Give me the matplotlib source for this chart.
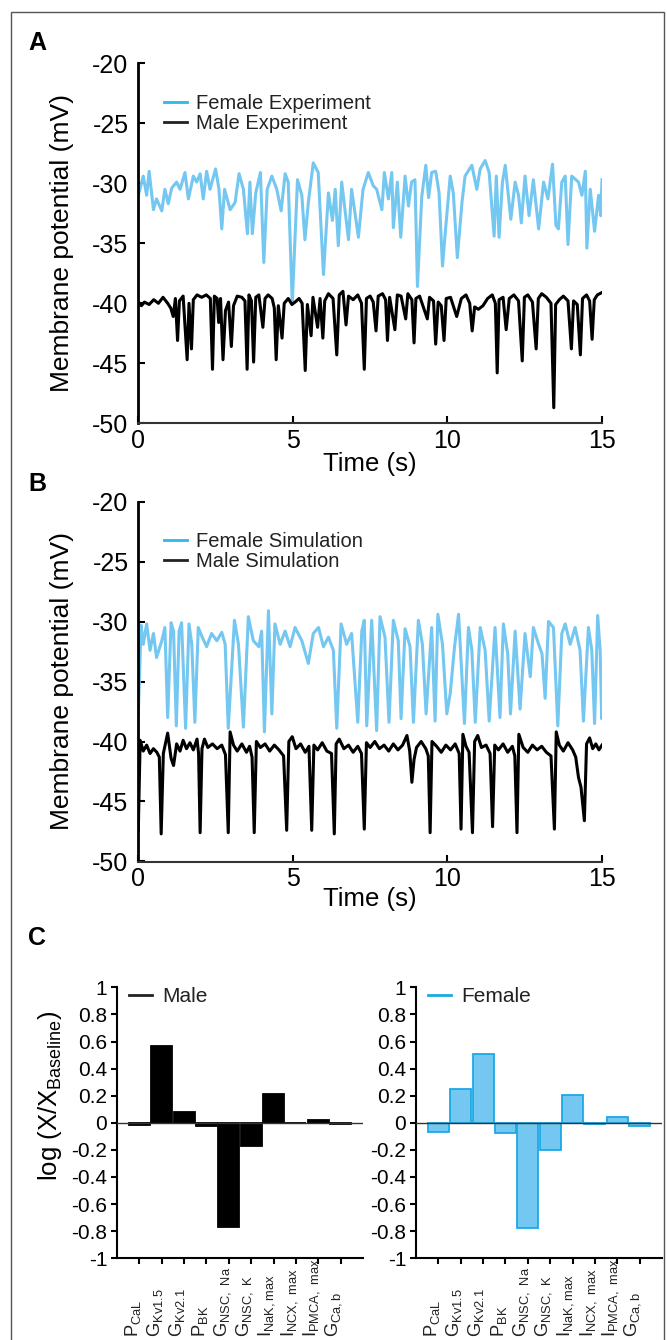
import numpy as np
import matplotlib
matplotlib.use("Agg")
import matplotlib.pyplot as plt
from matplotlib.patches import Rectangle
from matplotlib.transforms import blended_transform_factory

plt.rcParams['font.family'] = ['Liberation Sans', 'DejaVu Sans']
plt.rcParams['mathtext.default'] = 'regular'
plt.rcParams['axes.unicode_minus'] = False

# ---- panel A: experiment traces (time s, membrane potential mV) ----
female_exp = [(0.0, -31.0), (0.16, -29.4), (0.27, -31.0), (0.35, -29.0), (0.49, -32.2), (0.59, -31.3),
              (0.76, -32.3), (0.86, -30.5), (0.97, -31.7), (1.08, -30.4), (1.24, -29.9), (1.35, -30.5),
              (1.51, -29.1), (1.62, -31.3), (1.78, -29.4), (1.89, -29.9), (2.0, -29.2), (2.1, -31.3),
              (2.21, -29.0), (2.32, -30.5), (2.5, -28.8), (2.61, -30.5), (2.7, -33.8), (2.79, -30.5),
              (2.97, -32.2), (3.13, -31.6), (3.26, -29.2), (3.4, -30.5), (3.53, -34.2), (3.61, -29.9),
              (3.69, -34.2), (3.8, -30.8), (3.95, -29.1), (4.06, -36.6), (4.17, -30.5), (4.32, -29.4),
              (4.48, -30.5), (4.62, -32.3), (4.75, -29.2), (4.85, -29.9), (4.98, -40.0), (5.15, -29.7),
              (5.29, -31.0), (5.39, -34.7), (5.5, -31.6), (5.66, -28.3), (5.82, -29.1), (5.99, -37.6),
              (6.15, -30.8), (6.28, -33.1), (6.37, -30.5), (6.47, -35.2), (6.58, -29.9), (6.8, -34.7),
              (6.9, -30.5), (7.12, -34.5), (7.27, -30.5), (7.44, -29.1), (7.6, -30.2), (7.71, -30.5),
              (7.88, -32.2), (7.96, -29.1), (8.09, -31.3), (8.2, -29.1), (8.25, -33.7), (8.38, -29.9),
              (8.49, -34.5), (8.63, -29.4), (8.74, -31.9), (8.84, -29.9), (8.95, -29.7), (9.03, -38.6),
              (9.17, -31.1), (9.3, -28.5), (9.39, -31.2), (9.49, -29.1), (9.62, -29.0), (9.73, -30.8),
              (9.84, -36.9), (9.93, -34.1), (10.09, -29.4), (10.19, -30.8), (10.32, -36.2), (10.47, -31.6),
              (10.57, -29.4), (10.79, -28.5), (10.95, -30.5), (11.06, -28.8), (11.22, -28.1), (11.35, -29.1),
              (11.51, -34.4), (11.58, -29.4), (11.67, -34.5), (11.78, -29.9), (11.87, -28.5), (12.05, -33.0),
              (12.19, -29.9), (12.3, -31.0), (12.39, -33.3), (12.51, -29.4), (12.64, -32.7), (12.78, -29.7),
              (12.95, -33.8), (13.11, -29.9), (13.25, -31.3), (13.4, -28.4), (13.51, -33.5), (13.59, -33.8),
              (13.7, -29.9), (13.81, -29.4), (13.9, -35.1), (14.02, -29.4), (14.24, -29.9), (14.35, -31.0),
              (14.46, -29.0), (14.51, -35.4), (14.62, -30.5), (14.76, -34.0), (14.89, -31.0), (14.96, -32.7),
              (15.0, -29.7)]

male_exp = [(0.0, -39.9), (0.1, -40.2), (0.2, -39.9), (0.35, -40.1), (0.5, -39.7), (0.65, -40.0),
            (0.8, -39.5), (0.95, -40.0), (1.05, -40.4), (1.13, -41.1), (1.2, -39.6), (1.27, -43.1),
            (1.33, -39.8), (1.45, -39.4), (1.58, -44.7), (1.64, -40.0), (1.72, -43.8), (1.78, -39.7),
            (1.9, -39.3), (2.05, -39.5), (2.2, -39.3), (2.33, -39.6), (2.4, -45.5), (2.46, -39.4),
            (2.55, -39.6), (2.6, -41.6), (2.66, -39.6), (2.74, -44.7), (2.82, -40.6), (2.92, -39.9),
            (3.01, -43.6), (3.08, -40.2), (3.2, -39.4), (3.35, -39.5), (3.45, -39.8), (3.52, -45.5),
            (3.58, -39.3), (3.66, -39.8), (3.73, -44.9), (3.8, -39.5), (3.9, -39.3), (4.03, -42.0),
            (4.1, -39.6), (4.2, -39.3), (4.33, -39.6), (4.4, -40.4), (4.46, -44.7), (4.53, -40.2),
            (4.65, -42.9), (4.72, -40.0), (4.85, -39.6), (4.97, -40.1), (5.07, -39.9), (5.2, -39.6),
            (5.3, -40.0), (5.4, -45.6), (5.47, -40.1), (5.59, -42.7), (5.65, -39.5), (5.8, -42.0),
            (5.88, -39.6), (5.97, -42.9), (6.03, -39.8), (6.15, -39.2), (6.3, -39.6), (6.42, -44.3),
            (6.5, -39.3), (6.62, -39.0), (6.72, -41.8), (6.8, -39.4), (6.95, -39.7), (7.1, -39.3),
            (7.22, -40.0), (7.31, -45.5), (7.38, -39.6), (7.5, -39.4), (7.6, -39.9), (7.69, -42.3),
            (7.76, -39.4), (7.9, -39.2), (8.0, -39.7), (8.06, -43.1), (8.13, -39.5), (8.3, -42.2),
            (8.38, -39.3), (8.5, -39.4), (8.65, -41.3), (8.72, -39.2), (8.85, -39.7), (8.92, -43.3),
            (8.98, -39.6), (9.1, -39.4), (9.35, -41.3), (9.42, -39.5), (9.55, -39.8), (9.62, -43.4),
            (9.7, -39.9), (9.8, -40.2), (9.89, -43.1), (9.96, -39.6), (10.1, -39.5), (10.3, -41.1),
            (10.45, -39.6), (10.6, -39.3), (10.72, -40.0), (10.8, -42.3), (10.88, -40.3), (11.0, -40.5),
            (11.15, -40.2), (11.3, -39.6), (11.45, -39.3), (11.55, -40.0), (11.61, -45.8), (11.67, -39.7),
            (11.8, -39.5), (11.9, -42.2), (12.0, -39.6), (12.15, -39.3), (12.3, -39.8), (12.42, -44.8),
            (12.49, -39.5), (12.6, -39.3), (12.75, -39.9), (12.87, -43.8), (12.94, -39.6), (13.05, -39.2),
            (13.2, -39.5), (13.35, -40.0), (13.44, -48.7), (13.5, -40.1), (13.62, -39.7), (13.75, -39.4),
            (13.9, -39.8), (14.01, -43.8), (14.08, -39.8), (14.2, -40.1), (14.3, -44.3), (14.37, -39.6),
            (14.5, -39.3), (14.6, -39.8), (14.68, -43.0), (14.75, -39.7), (14.85, -39.3), (15.0, -39.1)]

# ---- panel B: simulation traces ----
female_sim = [(0.0, -37.7), (0.09, -30.3), (0.16, -31.9), (0.27, -30.2), (0.38, -32.4), (0.49, -31.0),
              (0.59, -33.0), (0.76, -31.6), (0.86, -30.5), (0.95, -38.0), (1.06, -30.1), (1.14, -30.8),
              (1.23, -38.7), (1.32, -30.8), (1.4, -30.1), (1.53, -38.9), (1.64, -30.2), (1.73, -31.9),
              (1.83, -38.4), (1.94, -30.5), (2.05, -31.2), (2.21, -32.1), (2.37, -31.0), (2.54, -31.6),
              (2.7, -30.9), (2.81, -31.9), (2.91, -38.9), (3.11, -29.9), (3.24, -31.9), (3.4, -38.8),
              (3.56, -29.6), (3.72, -31.6), (3.9, -32.1), (3.99, -30.8), (4.08, -39.2), (4.21, -29.1),
              (4.32, -37.7), (4.42, -30.2), (4.59, -31.9), (4.75, -30.8), (4.91, -32.1), (5.07, -30.5),
              (5.29, -31.6), (5.5, -33.5), (5.66, -31.0), (5.83, -30.5), (5.99, -32.1), (6.15, -31.3),
              (6.31, -32.4), (6.42, -38.9), (6.56, -30.2), (6.74, -31.9), (6.9, -31.0), (7.1, -38.4),
              (7.23, -30.8), (7.31, -29.9), (7.39, -38.7), (7.55, -29.9), (7.71, -39.1), (7.82, -29.6),
              (7.98, -31.3), (8.11, -38.4), (8.25, -29.9), (8.41, -31.6), (8.5, -38.1), (8.63, -30.6),
              (8.79, -32.1), (8.9, -38.4), (9.06, -29.9), (9.19, -31.9), (9.31, -37.7), (9.49, -30.5),
              (9.6, -38.3), (9.69, -29.4), (9.84, -31.9), (9.98, -37.7), (10.09, -36.0), (10.23, -32.1),
              (10.36, -29.4), (10.55, -38.5), (10.68, -30.5), (10.79, -32.4), (10.9, -38.4), (11.06, -30.5),
              (11.22, -32.4), (11.35, -38.3), (11.54, -30.5), (11.7, -38.0), (11.81, -30.2), (11.95, -32.7),
              (12.04, -37.7), (12.19, -30.8), (12.35, -37.3), (12.51, -31.0), (12.68, -34.6), (12.78, -30.5),
              (12.95, -31.9), (13.06, -32.7), (13.16, -36.4), (13.27, -30.0), (13.43, -30.5), (13.57, -38.7),
              (13.7, -31.0), (13.81, -30.2), (13.97, -31.9), (14.13, -30.5), (14.29, -32.4), (14.4, -38.3),
              (14.56, -30.5), (14.67, -32.4), (14.76, -38.5), (14.86, -29.5), (14.94, -32.4), (14.99, -38.1),
              (15.0, -36.3)]

male_sim = [(0.0, -47.4), (0.06, -39.9), (0.16, -40.8), (0.27, -40.3), (0.38, -41.0), (0.49, -40.6),
            (0.6, -40.9), (0.68, -41.3), (0.74, -47.7), (0.81, -41.0), (0.86, -40.4), (0.95, -39.3),
            (1.06, -41.4), (1.14, -42.0), (1.24, -40.2), (1.35, -40.8), (1.45, -39.9), (1.56, -40.6),
            (1.67, -40.1), (1.78, -40.7), (1.9, -39.8), (1.95, -41.0), (2.0, -47.6), (2.06, -40.6),
            (2.14, -39.8), (2.25, -40.5), (2.4, -40.2), (2.55, -40.6), (2.7, -40.3), (2.82, -41.1),
            (2.91, -47.6), (2.97, -39.2), (3.08, -40.3), (3.2, -40.8), (3.35, -40.2), (3.5, -40.9),
            (3.6, -40.4), (3.68, -41.3), (3.75, -47.6), (3.82, -40.0), (3.95, -40.5), (4.1, -40.2),
            (4.25, -40.8), (4.4, -40.3), (4.55, -40.7), (4.7, -41.2), (4.8, -47.4), (4.87, -40.0),
            (4.98, -39.6), (5.1, -40.6), (5.25, -40.2), (5.4, -40.9), (5.52, -40.4), (5.61, -47.4),
            (5.68, -40.3), (5.8, -40.7), (5.95, -40.1), (6.1, -40.8), (6.25, -41.0), (6.34, -47.7),
            (6.4, -40.2), (6.5, -39.8), (6.65, -40.6), (6.8, -40.3), (6.95, -40.9), (7.1, -40.4),
            (7.22, -41.0), (7.31, -47.3), (7.38, -40.1), (7.5, -40.5), (7.65, -40.0), (7.8, -40.6),
            (7.95, -40.3), (8.1, -40.8), (8.25, -40.2), (8.4, -40.7), (8.55, -40.3), (8.69, -39.5),
            (8.78, -40.8), (8.85, -43.4), (8.92, -41.5), (9.0, -40.5), (9.15, -40.0), (9.3, -40.6),
            (9.38, -41.2), (9.44, -47.6), (9.5, -40.0), (9.65, -40.4), (9.8, -40.9), (9.95, -40.3),
            (10.1, -40.7), (10.25, -40.2), (10.38, -41.0), (10.44, -47.3), (10.5, -39.4), (10.6, -40.4),
            (10.7, -40.9), (10.81, -47.6), (10.88, -40.0), (10.98, -39.5), (11.1, -40.5), (11.25, -40.3),
            (11.38, -41.0), (11.46, -47.1), (11.53, -40.3), (11.65, -40.7), (11.8, -40.2), (11.95, -40.9),
            (12.1, -40.4), (12.18, -41.2), (12.25, -47.6), (12.31, -39.4), (12.45, -40.5), (12.6, -40.9),
            (12.75, -40.3), (12.9, -40.7), (13.05, -40.4), (13.2, -40.9), (13.35, -41.2), (13.46, -47.3),
            (13.52, -39.2), (13.62, -40.3), (13.75, -40.8), (13.9, -40.1), (14.05, -40.7), (14.15, -41.3),
            (14.24, -43.0), (14.32, -43.8), (14.43, -46.6), (14.5, -40.2), (14.6, -39.7), (14.7, -40.6),
            (14.8, -40.2), (14.9, -40.7), (15.0, -40.3)]

# ---- panel C: fitted parameter changes ----
params = [r'$P_{CaL}$', r'$G_{Kv1.5}$', r'$G_{Kv2.1}$', r'$P_{BK}$', r'$G_{NSC,\ Na}$',
          r'$G_{NSC,\ K}$', r'$I_{NaK,max}$', r'$I_{NCX,\ max}$', r'$I_{PMCA,\ max}$', r'$G_{Ca,b}$']
male_log = [-0.015, 0.57, 0.08, -0.022, -0.77, -0.17, 0.21, -0.005, 0.022, -0.01]
female_log = [-0.065, 0.25, 0.51, -0.075, -0.775, -0.2, 0.207, -0.012, 0.04, -0.022]
bar_yticks = [-1, -0.8, -0.6, -0.4, -0.2, 0, 0.2, 0.4, 0.6, 0.8, 1]
bar_yticklabels = ['-1', '-0.8', '-0.6', '-0.4', '-0.2', '0', '0.2', '0.4', '0.6', '0.8', '1']

FEM = '#74c7f0'
FEM_KEY = '#2fb6ec'
W, H = 667, 1340

fig = plt.figure(figsize=(W / 100, H / 100), dpi=100)
fig.patches.append(Rectangle((11 / W, -0.02), (664 - 11) / W, 1.02 - 12 / H,
                             transform=fig.transFigure, fill=False, ec='#555555', lw=1.0))


def px_axes(left, top, right, bottom):
    return fig.add_axes([left / W, 1 - bottom / H, (right - left) / W, (bottom - top) / H])


def trace_panel(ax, fem, mal, labels, xlab_y):
    ft, fv = zip(*fem)
    mt, mv = zip(*mal)
    ax.plot(ft, fv, color=FEM, lw=2.2, label=labels[0], solid_joinstyle='round')
    ax.plot(mt, mv, color='black', lw=2.2, label=labels[1], solid_joinstyle='round')
    ax.set_xlim(0, 15)
    ax.set_ylim(-50, -20)
    ax.set_xticks([0, 5, 10, 15])
    ax.set_yticks([-50, -45, -40, -35, -30, -25, -20])
    for s in ['top', 'right']:
        ax.spines[s].set_visible(False)
    ax.spines['left'].set_linewidth(2.0)
    ax.spines['bottom'].set_linewidth(1.5)
    ax.spines['bottom'].set_color('#333333')
    ax.tick_params(axis='both', direction='in', length=5, width=1.5, labelsize=18)
    ax.tick_params(axis='y', pad=7)
    ax.tick_params(axis='x', pad=4)
    ax.set_ylabel('Membrane potential (mV)', fontsize=19)
    ax.yaxis.set_label_coords(-0.139, 0.5)
    ax.set_xlabel('Time (s)', fontsize=18.5)
    ax.xaxis.set_label_coords(0.5, xlab_y)
    leg = ax.legend(loc='upper left', bbox_to_anchor=(0.056, 0.915), frameon=False, fontsize=14.5,
                    handlelength=1.15, handletextpad=0.45, labelspacing=0.05, borderpad=0,
                    borderaxespad=0)
    leg.get_lines()[0].set_color(FEM_KEY)
    leg.get_lines()[1].set_color('#222222')
    for ln in leg.get_lines():
        ln.set_linewidth(2.0)
    for t in leg.get_texts():
        t.set_color('#222222')


axA = px_axes(138.3, 63.3, 602, 423.3)
trace_panel(axA, female_exp, male_exp, ['Female Experiment', 'Male Experiment'], -0.08)
axB = px_axes(138.3, 501.5, 602, 861.5)
trace_panel(axB, female_sim, male_sim, ['Female Simulation', 'Male Simulation'], -0.072)


def bar_panel(ax, vals, face, edge, key_color, name, ylabel):
    x = np.arange(1, len(vals) + 1)
    ax.bar(x, vals, width=0.94, color=face, edgecolor=edge, linewidth=1.3, label=name, zorder=2)
    ax.axhline(0, color='#333333', lw=1.0, zorder=3)
    ax.set_xlim(0, 11)
    ax.set_ylim(-1, 1)
    ax.set_yticks(bar_yticks)
    ax.set_yticklabels(bar_yticklabels)
    ax.set_xticks(x)
    ax.set_xticklabels([])
    for s in ['top', 'right']:
        ax.spines[s].set_visible(False)
    for s in ['left', 'bottom']:
        ax.spines[s].set_linewidth(1.5)
    ax.tick_params(axis='both', direction='out', length=4, width=1.5, labelsize=15)
    ax.tick_params(axis='y', pad=3)
    trans = blended_transform_factory(ax.transData, ax.transAxes)
    for xi, lab in zip(x, params):
        ax.text(xi - 0.3, -0.292, lab, transform=trans, rotation=90, ha='center', va='bottom',
                fontsize=13.2, color='#222222', clip_on=False)
    h = plt.Line2D([], [], color=key_color, lw=2.0)
    leg = ax.legend([h], [name], loc='upper left', bbox_to_anchor=(0.05, 1.0), frameon=False,
                    fontsize=15, handlelength=1.1, handletextpad=0.5, borderpad=0, borderaxespad=0)
    for t in leg.get_texts():
        t.set_color('#222222')
    if ylabel:
        ax.set_ylabel(r'log (X/X$_{\mathregular{Baseline}}$)', fontsize=18.5)
        ax.yaxis.set_label_coords(-0.215, 0.6)


axC1 = px_axes(117, 987.3, 363, 1258.3)
bar_panel(axC1, male_log, 'black', 'black', '#222222', 'Male', True)
axC2 = px_axes(416, 987.3, 662, 1258.3)
bar_panel(axC2, female_log, FEM, '#1ba9e5', '#1ba9e5', 'Female', False)

for letter, yy in [('A', 43), ('B', 484), ('C', 938)]:
    fig.text(28 / W, 1 - yy / H, letter, fontsize=18, fontweight='bold', va='center', ha='left')

fig.savefig('out.png', dpi=100)
